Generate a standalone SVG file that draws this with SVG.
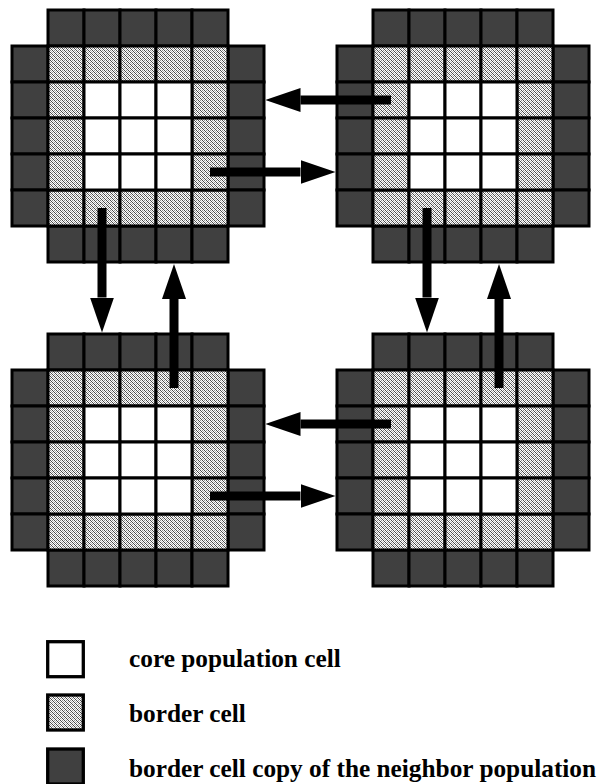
<svg xmlns="http://www.w3.org/2000/svg" xmlns:xlink="http://www.w3.org/1999/xlink" width="601" height="784" viewBox="0 0 601 784">
<style>
.cell{stroke:#000;stroke-width:3}
.dark{fill:#404040}
.core{fill:#fff}
.border{fill:url(#stipple)}
.arrow{stroke:#000;stroke-width:9;fill:none;marker-end:url(#head)}
</style>
<defs>
<pattern id="stipple" patternUnits="userSpaceOnUse" width="4" height="4">
<rect width="4" height="4" fill="#fff"/>
<rect x="0" y="0" width="1" height="1" fill="#4a4a4a"/>
<rect x="1" y="1" width="1" height="1" fill="#4a4a4a"/>
<rect x="2" y="2" width="1" height="1" fill="#4a4a4a"/>
<rect x="3" y="3" width="1" height="1" fill="#4a4a4a"/>
<rect x="2" y="0" width="1" height="1" fill="#909090"/>
<rect x="0" y="2" width="1" height="1" fill="#909090"/>
<rect x="3" y="1" width="1" height="1" fill="#b0b0b0"/>
<rect x="1" y="3" width="1" height="1" fill="#c8c8c8"/>
</pattern>
<marker id="head" markerUnits="userSpaceOnUse" markerWidth="35" markerHeight="24" viewBox="0 0 35 24" refX="0" refY="12" orient="auto">
<path d="M0,0 L35,12 L0,24 Z" fill="#000"/>
</marker>
<g id="grid">
<rect class="cell dark" x="36" y="0" width="36" height="36"/>
<rect class="cell dark" x="72" y="0" width="36" height="36"/>
<rect class="cell dark" x="108" y="0" width="36" height="36"/>
<rect class="cell dark" x="144" y="0" width="36" height="36"/>
<rect class="cell dark" x="180" y="0" width="36" height="36"/>
<rect class="cell dark" x="36" y="216" width="36" height="36"/>
<rect class="cell dark" x="72" y="216" width="36" height="36"/>
<rect class="cell dark" x="108" y="216" width="36" height="36"/>
<rect class="cell dark" x="144" y="216" width="36" height="36"/>
<rect class="cell dark" x="180" y="216" width="36" height="36"/>
<rect class="cell dark" x="0" y="36" width="36" height="36"/>
<rect class="cell dark" x="0" y="72" width="36" height="36"/>
<rect class="cell dark" x="0" y="108" width="36" height="36"/>
<rect class="cell dark" x="0" y="144" width="36" height="36"/>
<rect class="cell dark" x="0" y="180" width="36" height="36"/>
<rect class="cell dark" x="216" y="36" width="36" height="36"/>
<rect class="cell dark" x="216" y="72" width="36" height="36"/>
<rect class="cell dark" x="216" y="108" width="36" height="36"/>
<rect class="cell dark" x="216" y="144" width="36" height="36"/>
<rect class="cell dark" x="216" y="180" width="36" height="36"/>
<rect class="cell border" x="36" y="36" width="36" height="36"/>
<rect class="cell border" x="72" y="36" width="36" height="36"/>
<rect class="cell border" x="108" y="36" width="36" height="36"/>
<rect class="cell border" x="144" y="36" width="36" height="36"/>
<rect class="cell border" x="180" y="36" width="36" height="36"/>
<rect class="cell border" x="36" y="180" width="36" height="36"/>
<rect class="cell border" x="72" y="180" width="36" height="36"/>
<rect class="cell border" x="108" y="180" width="36" height="36"/>
<rect class="cell border" x="144" y="180" width="36" height="36"/>
<rect class="cell border" x="180" y="180" width="36" height="36"/>
<rect class="cell border" x="36" y="72" width="36" height="36"/>
<rect class="cell border" x="36" y="108" width="36" height="36"/>
<rect class="cell border" x="36" y="144" width="36" height="36"/>
<rect class="cell border" x="180" y="72" width="36" height="36"/>
<rect class="cell border" x="180" y="108" width="36" height="36"/>
<rect class="cell border" x="180" y="144" width="36" height="36"/>
<rect class="cell core" x="72" y="72" width="36" height="36"/>
<rect class="cell core" x="108" y="72" width="36" height="36"/>
<rect class="cell core" x="144" y="72" width="36" height="36"/>
<rect class="cell core" x="72" y="108" width="36" height="36"/>
<rect class="cell core" x="108" y="108" width="36" height="36"/>
<rect class="cell core" x="144" y="108" width="36" height="36"/>
<rect class="cell core" x="72" y="144" width="36" height="36"/>
<rect class="cell core" x="108" y="144" width="36" height="36"/>
<rect class="cell core" x="144" y="144" width="36" height="36"/>
</g>
</defs>
<rect width="601" height="784" fill="#fff"/>
<g id="population-top-left"><use xlink:href="#grid" href="#grid" x="12" y="10"/></g>
<g id="population-top-right"><use xlink:href="#grid" href="#grid" x="337" y="10"/></g>
<g id="population-bottom-left"><use xlink:href="#grid" href="#grid" x="12" y="334"/></g>
<g id="population-bottom-right"><use xlink:href="#grid" href="#grid" x="337" y="334"/></g>
<g id="connectors">
<line class="arrow" x1="391" y1="100" x2="300.5" y2="100"/>
<line class="arrow" x1="210" y1="172" x2="300.5" y2="172"/>
<line class="arrow" x1="102" y1="208" x2="102" y2="297.5"/>
<line class="arrow" x1="174" y1="388" x2="174" y2="299"/>
<line class="arrow" x1="427" y1="208" x2="427" y2="297.5"/>
<line class="arrow" x1="499" y1="388" x2="499" y2="299"/>
<line class="arrow" x1="391" y1="424" x2="300.5" y2="424"/>
<line class="arrow" x1="210" y1="496" x2="300.5" y2="496"/>
</g>
<g id="legend" font-family="'Liberation Serif', 'Times New Roman', serif" font-weight="bold" font-size="25.3" fill="#000">
<g id="legend-core"><rect class="cell core" x="47.7" y="641.7" width="35.6" height="35" stroke-width="3.3" style="stroke-width:3.3"/><text x="129" y="667.3" font-family="Liberation Serif, serif">core population cell</text></g>
<g id="legend-border"><rect class="cell border" x="47.7" y="695" width="35.6" height="35" style="stroke-width:3.3"/><text x="129" y="721.7" font-family="Liberation Serif, serif">border cell</text></g>
<g id="legend-copy"><rect class="cell dark" x="47.7" y="749" width="35.6" height="35" style="stroke-width:3.3"/><text x="129" y="777" font-family="Liberation Serif, serif">border cell copy of the neighbor population</text></g>
</g>
</svg>
